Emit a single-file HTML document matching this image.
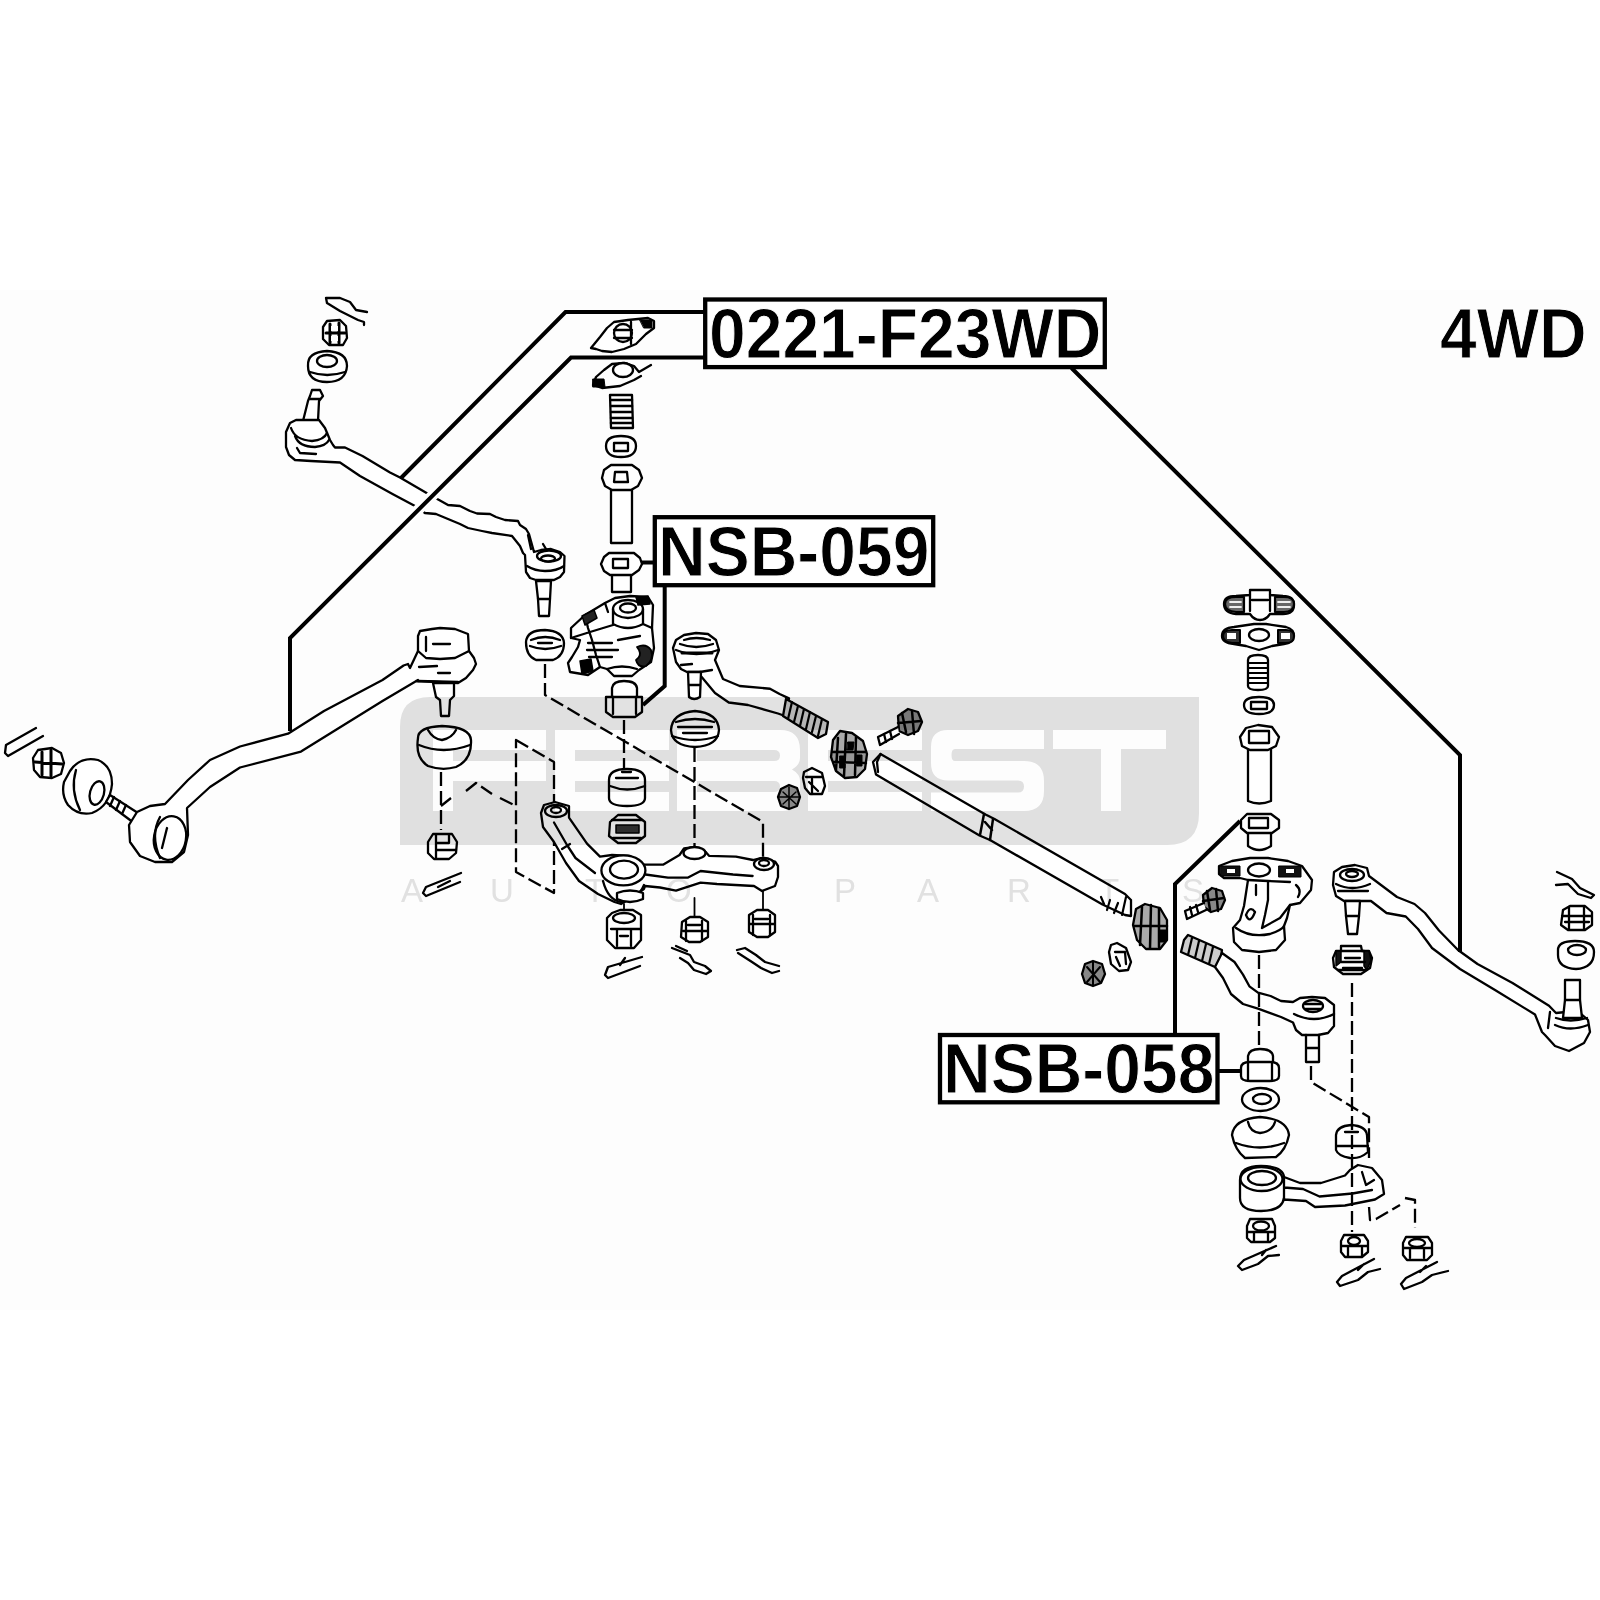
<!DOCTYPE html>
<html><head><meta charset="utf-8">
<style>
html,body{margin:0;padding:0;background:#fff;}
body{width:1600px;height:1600px;overflow:hidden;}
svg{display:block;}
.t{font-family:"Liberation Sans",sans-serif;font-weight:bold;fill:#000;stroke:#fff;stroke-width:0.9px;}
.wm{font-family:"Liberation Sans",sans-serif;fill:#e3e3e3;font-size:33px;}
</style></head><body>
<svg width="1600" height="1600" viewBox="0 0 1600 1600">
<rect x="0" y="0" width="1600" height="1600" fill="#fff"/>
<rect x="0" y="290" width="1600" height="1020" fill="#fdfdfd"/>

<!-- PARTS -->
<g id="parts" fill="#fff" stroke="#000" stroke-width="2.3" stroke-linejoin="round" stroke-linecap="round">
<!-- Group A: upper-left tie rod -->
<path d="M326,298 L340,298 L350,302 L356,310 L367,312 M327,303 L340,311 L350,316 L358,320 L364,322 L364,325 M326,298 L327,303" fill="none"/>
<path d="M327,321 L340,320 L346,326 L347,338 L343,345 L329,345 L323,339 L323,327 Z"/>
<path d="M330,324 L330,343 M339,323 L339,343 M326,333 L345,333" fill="none" stroke-width="3"/><path d="M331,326 L338,326 L338,331 L331,331 Z M331,336 L338,336 L338,341 L331,341 Z" fill="#fff" stroke="none"/>
<path d="M308,366 Q307,352 327,351 Q347,352 347,366 Q346,382 327,382 Q308,382 308,366 Z"/>
<path d="M310,372 Q327,378 345,372" fill="none"/>
<ellipse cx="327" cy="361" rx="10" ry="6"/>
<path d="M312,390 L320,390 L323,396 L319,401 L318,421 L303,421 L308,401 L310,396 Z"/>
<path d="M310,399 L320,399" fill="none"/>
<path d="M303,420 L296,420 L290,423 L286,432 L286,447 L289,455 L295,460 L311,461 L340,462.5 L360,476 L392.5,494 L415,506 L425,513 L436,514 L460,524 L468,528 L482,531 L492,533 L512,536 L516,541 L520,546 L523,553 L525,555 L526,572 L530,578 L536,580 L554,580 L560,577 L564,572 L564.5,556 L560,552 L551,549 L541,550 L534,552 L529,534 L526,529 L520,525 L518,521 L505,520 L496,517 L490,514 L477,513.5 L470,511 L460,506 L448,505 L440,500.5 L430,495 L400,477.5 L390,472.5 L362.5,456 L345,447.5 L335,447.5 L333,445 L330,440 L325,428 L319,420 Z"/>
<path d="M291,428 Q295,440 312,441 Q324,440 327,433 M295,436 Q299,447 315,447 Q326,446 329,440 M297,448 L300,453 L316,454" fill="none"/>
<path d="M527,566 Q535,571 545,571 Q557,571 564,566" fill="none"/>
<ellipse cx="549" cy="556" rx="12" ry="5.5"/>
<ellipse cx="548" cy="558.5" rx="7" ry="3"/>
<path d="M536,581 L551,581 L550,599 L549,616 L539,616 L538,599 Z"/>
<path d="M538,599 L550,599" fill="none"/>
<path d="M528,535 L531,549 M543,544 L546,549" fill="none"/>

<!-- Group B: long tie rod left -->
<path d="M36,728 L6,745 L5,753 L8,756 L43,736" fill="none"/>
<path d="M38,750 L52,748 L61,753 L64,763 L61,774 L52,778 L40,777 L34,770 L33,758 Z"/>
<path d="M42,752 L42,775 M51,750 L51,776 M35,762 L62,764" fill="none" stroke-width="3"/><path d="M44,754 L49,754 L49,760 L44,760 Z M44,766 L49,766 L49,773 L44,773 Z" fill="#fff" stroke="none"/>
<path d="M70,771 Q80,756 98,760 Q112,766 112,784 Q110,806 92,813 Q78,816 68,805 Q61,795 64,782 Z"/>
<path d="M76,770 Q70,790 80,810" fill="none"/>
<ellipse cx="97" cy="793" rx="7" ry="12" transform="rotate(15 97 793)"/>
<path d="M106,802 L110,795 L138,813 L134,823 Z"/>
<path d="M114,797 L110,806 M120,801 L116,810 M126,805 L122,814" fill="none"/>
<path d="M187,808 L210,787 L240,767.5 L301,751.6 L382.5,701 L418,680 L416,681 L458,683 L466,678 L473,670 L476,664 L474,658 L469,651 L468,634 L455,629 L440,628 L432,629 L420,631 L418,636 L418,651 L410,668 L408,664 L403.6,665.5 L382.5,680 L324,711 L288,733.7 L240,746.5 L210,760 L188,780 L165,804 L150,806 L137,812 L129,825 L130,842 L140,856 L155,862 L172,862 L184,852 L188,835 Z"/>
<ellipse cx="170" cy="838" rx="16" ry="22" transform="rotate(10 170 838)"/>
<path d="M167,828 L162,848" fill="none"/>
<path d="M160,817 Q150,835 160,858" fill="none"/>
<path d="M418,651 L426,658 L440,659 L455,658 L469,651 M426,637 L426,651 M433,644 L450,644 M419,667 L437,666 M438,673 L450,673 M418,681 L458,682" fill="none"/>
<path d="M433,683 L454,683 L454,696 L450,700 L449,716 L441,716 L440,700 L436,697 Z"/>
<path d="M418,738 Q418,727 442,726 Q470,727 471,740 Q472,760 456,767 Q442,771 428,766 Q415,758 418,738 Z"/>
<path d="M428,730 Q433,739 442,740 Q452,738 456,730 M419,745 Q443,755 470,745" fill="none"/>

<!-- Group C: center column -->
<path d="M591,348 L600,337 L607,328 L614,322 L628,320 L648,318 L654,321 L654,328 L646,334 L636,344 L624,349 L612,352 L602,351 L596,349 Z"/>
<ellipse cx="623" cy="333" rx="9" ry="9"/>
<path d="M614,330 L632,330 M614,338 L632,338 M631,322 L631,344" fill="none"/>
<path d="M640,320 L652,320 L652,328 L644,328 Z" fill="#000" stroke-width="1"/>
<path d="M593,385 L596,377 L604,370 L612,364 L625,363 L634,366 L639,372 L651,365 M593,385 L602,388 L620,386 L634,380 L641,376" fill="none"/>
<path d="M593,379 L604,379 L605,387 L593,387 Z" fill="#000" stroke-width="1"/>
<ellipse cx="623" cy="370" rx="10" ry="7"/>
<path d="M610,395 L632,395 L633,428 L611,428 Z"/>
<path d="M611,400 L632,400 M611,406 L632,406 M611,412 L632,412 M611,418 L632,418 M611,423 L632,423" fill="none" stroke-width="2.5"/>
<path d="M606,446 Q606,436 621,436 Q636,436 636,446 Q636,457 621,457 Q606,457 606,446 Z"/>
<path d="M614,443 L628,443 L628,451 L614,451 Z" fill="none"/>
<path d="M611,487 L611,543 L632,543 L632,487 Z"/>
<path d="M604,470 L611,465 L632,465 L639,470 L642,478 L638,486 L631,490 L612,490 L605,486 L602,478 Z"/>
<path d="M615,472 L627,472 L628,482 L614,482 Z" fill="none"/>
<path d="M612,574 L612,592 L631,592 L631,574"/>
<path d="M604,557 L609,553 L634,553 L640,558 L642,564 L639,570 L632,575 L610,575 L604,571 L601,564 Z"/>
<path d="M613,559 L628,559 L628,568 L613,568 Z" fill="none"/>
<!-- idler bracket -->
<path d="M571,628 L585,615 L605,603 L615,598 L630,596 L648,597 L653,605 L652,628 L654,648 L651,662 L639,670 L632,676 L614,676 L607,669 L600,667 L588,675 L570,672 L568,663 L572,657 L578,647 L580,640 L571,638 Z"/>
<ellipse cx="628" cy="609" rx="15" ry="9"/>
<ellipse cx="628" cy="608" rx="8" ry="4.5"/>
<path d="M613,609 L613,624 Q628,632 643,624 L643,609" fill="none"/>
<path d="M585,615 L588,628 L592,640 L596,655 L600,667 M605,603 L608,612 M571,638 L590,632 L613,625 M588,643 L612,643 M587,650 L618,650 M589,657 L612,657 M643,624 L652,628 M607,669 Q622,664 637,669 M618,640 L640,636" fill="none"/>
<path d="M636,597 L648,596 L650,604 L638,605 Z" fill="#000" stroke-width="1.5"/>
<path d="M580,661 L591,659 L593,671 L582,674 Z" fill="#000" stroke-width="1.5"/>
<path d="M637,647 Q646,643 651,650 Q654,660 646,666 Q638,668 636,660 Q642,656 639,650 Z" fill="#222" stroke-width="1.8"/>
<path d="M582,616 L594,610 L597,618 L585,625 Z" fill="#222" stroke-width="1.5"/>
<!-- boot left -->
<path d="M526,642 Q527,630 545,630 Q563,631 564,643 Q564,656 553,660 L536,660 Q526,656 526,642 Z"/>
<path d="M530,646 Q545,652 561,646 M531,640 Q545,634 560,640 M538,643 L552,643" fill="none"/>
<!-- cap nut -->
<path d="M612,697 L612,688 Q613,681 624,681 Q636,681 637,688 L637,697"/>
<path d="M606,697 L642,697 L642,712 L635,717 L613,717 L606,712 Z"/>
<path d="M613,697 L613,714 M636,697 L636,714" fill="none"/>

<!-- Group D: idler arm + dashed -->
<g fill="none" stroke-width="2.3" stroke-dasharray="14,5" stroke-linecap="butt">
<path d="M441,772 L441,830"/>
<path d="M545,664 L545,695 L763,822 L763,866"/>
<path d="M624,720 L624,770"/>
<path d="M694.5,748 L694.5,848"/>
<path d="M516,740 L554,762 L554,893 L516,872 Z"/>
<path d="M441,806 L451,798 M466,791 L476,783 L492,794 M500,798 L516,806"/>
</g>
<path d="M694.5,898 L694.5,916 M763,891 L763,911 M624,904 L624,912" fill="none" stroke-width="1.8"/>
<!-- nut under left boot -->
<path d="M433,834 L452,834 L457,842 L456,853 L449,859 L434,859 L428,853 L428,842 Z"/>
<path d="M436,835 L436,858 M436,843 L449,843 L449,835 M436,850 L456,850" fill="none"/>
<!-- cotter pin -->
<path d="M461,873 L426,887 L423,893 L426,896 L460,882 M438,887 L450,881" fill="none"/>
<!-- idler arm -->
<path d="M541,813 L543,827 L554,842 L566,863 L579,881 L598,894 L614.5,902 L621,904 L644,889 L645,886 L660,887.5 L676,890.7 L700.6,882.6 L717,884 L754,886 L762,891 L775,886 L778,877 L778,866 L775,861.5 L761,858 L753,860 L736,856.6 L709,855.8 L705.5,851.7 L695,847 L684,848.5 L679.5,855 L663,864.7 L644,864.7 L630,856 L612,855 L600,856.6 L587,843.6 L569,817.6 L569,806 L555,802 L544,805 Z"/>
<ellipse cx="623.4" cy="870.4" rx="22" ry="15"/>
<ellipse cx="624" cy="869.6" rx="14" ry="9"/>
<path d="M603,881 Q608,900 621,902 Q638,900 644,885" fill="none"/>
<path d="M554,822.5 L567,845 L575.5,858 L595,873 M645.4,874.5 L668,877.7 L687.6,877.7 L700.6,871 L733,874.5 L752.6,876 M562,849 L570,844" fill="none"/>
<ellipse cx="556" cy="811" rx="11" ry="6"/>
<ellipse cx="556" cy="810" rx="5" ry="3"/>
<ellipse cx="694.5" cy="853" rx="11" ry="6"/>
<ellipse cx="764" cy="864" rx="10" ry="6"/>
<ellipse cx="764" cy="863" rx="5" ry="3"/>
<path d="M617,893 Q630,888 643,893 L643,899 Q630,905 617,899 Z"/>
<!-- bushing + nut center -->
<path d="M609,780 Q609,769 627,769 Q645,769 645,780 L645,798 Q645,806 627,806 Q609,806 609,798 Z"/>
<path d="M610,786 Q627,793 645,786 M616,778 L638,778 M622,772 L631,772" fill="none"/>
<path d="M610,822 L618,815 L636,815 L645,822 L645,836 L636,843 L618,843 L609,836 Z"/>
<path d="M616,825 L639,825 L639,833 L616,833 Z" fill="#333" stroke-width="1.5"/>
<path d="M612,820 L642,820 M613,838 L641,838" fill="none" stroke-width="2.5"/>
<!-- boot right -->
<path d="M671,730 Q672,713 695,711 Q718,713 719,730 Q718,746 695,747 Q672,746 671,730 Z"/>
<path d="M676,722 Q695,716 714,722 M678,727 L712,727 M683,733 L707,733 M672,736 Q695,744 718,736" fill="none"/>
<!-- nuts below idler -->
<path d="M612,913 L620,910 L633,910 L641,915 L641,940 L634,948 L615,948 L607,940 L607,918 Z"/>
<ellipse cx="624" cy="918" rx="11" ry="5"/>
<path d="M611,929 L640,929 M617,930 L617,946 M631,930 L631,946 M620,936 L628,936" fill="none"/>
<path d="M682,922 L690,917 L700,917 L708,922 L708,937 L700,942 L689,942 L681,937 Z"/>
<path d="M686,921 L686,941 M702,921 L702,941 M683,931 L707,931 M688,925 L700,925" fill="none"/>
<path d="M749,915 L757,910 L768,910 L775,915 L775,932 L768,937 L757,937 L749,932 Z"/>
<path d="M753,915 L753,935 M770,915 L770,935 M750,924 L774,924 M755,919 L768,919" fill="none"/>
<!-- cotter pins below -->
<path d="M642,957 L608,967 L605,975 L608,978 L640,966 M620,965 L625,958" fill="none"/>
<path d="M672,948 L690,955 L694,962 L705,966 L711,971 L706,974 L694,970 L688,963 L680,958 M676,946 L687,951" fill="none"/>
<path d="M737,950 L745,948 L756,955 L765,962 L779,966 M738,953 L752,962 L761,968 L772,973 L779,971" fill="none"/>

<!-- Group E: center tie rod + sleeve -->
<!-- tie rod end C1 -->
<path d="M715,660 L723,679 L739.7,686 L770,688.75 L779.6,694 L789,698.4 L785,716 L778,713.5 L748,705 L728.75,702.5 L715,693 L700,675 L700,672 L687,672 L681,669 L676,662 L673,648 L676,640 L684,635 L696,633 L708,634 L716,640 L719,650 Z"/>
<path d="M676,650 Q696,658 718,650 M680,644 Q696,650 713,644 M684,640 Q696,636 710,640" fill="none"/>
<path d="M682,653 L712,653" fill="none" stroke-width="3"/>
<path d="M681,665 L692,664 M700,672 L712,670" fill="none"/>
<path d="M688,672 L701,672 L700,697 Q694,701 689,697 Z"/>
<path d="M689,685 L700,685" fill="none"/>
<!-- threaded end -->
<path d="M786,699 L828,722 L826,734 L818,738 L783,716 Z" fill="#ccc"/>
<path d="M792,702 L788,719 M798,706 L794,722 M804,709 L800,726 M810,712 L806,729 M816,716 L812,732 M822,719 L818,736" fill="none" stroke-width="2.2"/>
<!-- clamp dark -->
<path d="M833,740 L840,731 L852,733 L863,741 L867,754 L865,769 L857,777 L845,778 L836,771 L831,757 Z" fill="#aaa"/>
<path d="M838,738 L836,770 M846,734 L844,776 M856,737 L855,775 M833,752 L866,752 M834,762 L866,763" fill="none" stroke-width="2.5"/>
<path d="M848,742 L854,742 L853,750 L847,750 Z M840,756 L845,756 L845,768 L840,768 Z M857,755 L862,755 L862,766 L857,766 Z" fill="#000" stroke-width="1"/>
<!-- bolt -->
<path d="M898,716 L908,709 L918,712 L922,722 L918,731 L908,735 L899,731 Z" fill="#888"/>
<path d="M902,713 L906,732 M912,711 L914,734 M898,723 L921,721" fill="none" stroke-width="2.5"/>
<path d="M898,727 L878,737 L880,745 L899,734" />
<path d="M884,734 L886,742 M890,731 L892,739" fill="none"/>
<!-- clamp nut -->
<path d="M804,772 L812,768 L822,773 L825,786 L822,794 L810,794 L805,788 L803,778 Z"/>
<path d="M806,777 L822,777 M809,782 L818,791 M812,779 L812,794" fill="none"/>
<!-- round nut -->
<path d="M781,789 L789,785 L797,788 L800,797 L797,806 L789,809 L781,806 L778,797 Z" fill="#888"/>
<path d="M783,792 L796,804 M796,792 L783,804 M789,787 L789,808 M779,797 L799,797" fill="none" stroke-width="1.5"/>
<!-- sleeve tube -->
<path d="M880.5,754 L985.5,814.5 L994.5,819 L1125,894 L1131,900 L1131,916 L1125,915 L1102.5,904.5 L990,840 L979.5,835.5 L876,774.4 L873,762 Z"/>
<path d="M880.5,754 L877,762 L878,772" fill="none"/>
<path d="M984,814 L980,835 M993,819 L990,840 M985,822 L992,830" fill="none" stroke-width="2.5"/>
<path d="M1101,897 L1104,904 M1110,900 L1107,910 M1118,903 L1114,913 M1126,897 L1122,915" fill="none" stroke-width="2.2"/>
<!-- end clamp ring dark -->
<path d="M1136,909 L1145,904 L1160,908 L1167,920 L1167,940 L1160,949 L1146,949 L1137,940 L1133,925 Z" fill="#aaa"/>
<path d="M1142,907 L1140,945 M1151,905 L1150,948 M1159,908 L1159,947 M1134,926 L1167,926" fill="none" stroke-width="2.5"/>
<path d="M1160,930 L1166,930 L1166,942 L1160,942 Z" fill="#000" stroke-width="1"/>
<!-- clamp nut 2 -->
<path d="M1111,945 L1117,943 L1126,948 L1131,962 L1128,970 L1119,971 L1111,964 L1109,952 Z"/>
<path d="M1115,952 L1125,952 L1126,964 M1116,957 L1120,966" fill="none"/>
<!-- round nut 2 -->
<path d="M1085,964 L1093,961 L1102,964 L1105,974 L1101,983 L1093,986 L1085,983 L1082,974 Z" fill="#888"/>
<path d="M1087,967 L1100,982 M1100,967 L1087,982 M1093,962 L1093,985" fill="none" stroke-width="2"/>

<!-- Group F: right column -->
<!-- R1 plate with wings -->
<path d="M1224,604 Q1224,596 1236,596 L1250,595 L1250,590 L1270,590 L1270,595 L1283,596 Q1294,596 1294,605 Q1294,614 1283,614 L1270,614 Q1266,620 1260,620 Q1254,620 1250,614 L1236,614 Q1224,613 1224,604 Z"/>
<path d="M1250,595 L1250,611 M1270,595 L1270,611 M1252,600 L1268,600" fill="none"/>
<path d="M1225,604 Q1225,597 1236,597 L1244,597 L1244,612 L1236,612 Q1225,611 1225,604 Z M1275,597 L1284,597 Q1294,597 1294,604 Q1294,612 1284,612 L1275,612 Z" fill="#666" stroke-width="2.2"/>
<path d="M1230,602 L1241,602 M1230,607 L1241,607 M1278,602 L1290,602 M1278,607 L1290,607" fill="none" stroke="#eee" stroke-width="1.8"/>
<!-- R2 plate -->
<path d="M1222,636 Q1222,628 1234,627 L1254,624 L1266,624 L1286,627 Q1294,629 1294,636 Q1293,643 1284,644 L1272,646 L1259,650 L1246,646 L1234,644 Q1222,643 1222,636 Z"/>
<ellipse cx="1259" cy="635" rx="10" ry="6"/>
<path d="M1223,636 Q1223,630 1232,630 L1240,630 L1240,643 L1232,643 Q1223,642 1223,636 Z M1278,630 L1286,630 Q1294,630 1294,636 Q1294,643 1286,643 L1278,643 Z" fill="#333" stroke-width="2"/><path d="M1227,633 L1236,633 L1236,639 L1227,639 Z M1281,633 L1290,633 L1290,639 L1281,639 Z" fill="#fff" stroke="none"/>
<!-- R3 spring -->
<path d="M1248,660 Q1248,655 1258,655 Q1268,655 1268,660 L1268,686 Q1268,690 1258,690 Q1248,690 1248,686 Z"/>
<path d="M1249,663 L1267,663 M1249,668 L1267,668 M1249,673 L1267,673 M1249,678 L1267,678 M1249,683 L1267,683" fill="none" stroke-width="2.2"/>
<!-- R4 washer -->
<path d="M1244,705 Q1244,697 1259,697 Q1274,697 1274,705 Q1274,714 1259,714 Q1244,714 1244,705 Z"/>
<path d="M1251,702 L1267,702 L1267,709 L1251,709 Z" fill="none"/>
<!-- R5 sleeve -->
<path d="M1248,748 L1248,801 Q1259,806 1271,801 L1271,748"/>
<path d="M1240,737 L1246,728 L1258,725 L1272,727 L1279,737 L1276,746 L1268,750 L1250,750 L1242,746 Z"/>
<path d="M1249,731 L1269,731 L1269,743 L1249,743 Z" fill="none"/>
<!-- R6 bushing -->
<path d="M1248,832 L1248,846 Q1259,854 1271,846 L1271,832"/>
<path d="M1241,820 L1247,814 L1271,814 L1279,820 L1279,828 L1272,833 L1247,833 L1241,828 Z"/>
<path d="M1249,818 L1268,818 L1268,828 L1249,828 Z" fill="none"/>
<!-- R7 bracket -->
<path d="M1219,866 L1232,861 L1250,858 L1268,858 L1288,861 L1302,866 L1312,880 L1311,890 L1300,903 L1290,905 L1287,918 L1284,926 L1285,940 L1276,950 L1259,952 L1242,950 L1234,942 L1233,928 L1240,920 L1244,906 L1248,880 L1240,878 L1224,878 L1219,874 Z"/>
<ellipse cx="1259" cy="870" rx="11" ry="6.5"/>
<path d="M1221,866 L1240,866 L1240,876 L1221,876 Z M1279,866 L1301,866 L1301,877 L1279,877 Z" fill="#111" stroke-width="1"/>
<path d="M1227,869 L1235,869 L1235,873 L1227,873 Z M1286,869 L1294,869 L1294,873 L1286,873 Z" fill="#fff" stroke="none"/>
<path d="M1248,880 L1268,881 L1290,882 M1268,881 L1268,900 L1265,915 L1262,928 M1256,885 L1256,895 M1296,885 Q1302,890 1298,897 M1290,905 L1280,918 L1262,928 M1236,928 Q1250,938 1270,934 Q1282,930 1284,926 M1246,915 Q1250,925 1255,912 Q1250,905 1246,915 Z" fill="none"/>
<!-- R8 short tie rod -->
<path d="M1184,940 L1188,935 L1222,950 L1220,963 L1215,967 L1181,952 Z" fill="#ccc"/>
<path d="M1192,938 L1188,955 M1199,941 L1195,958 M1206,944 L1202,961 M1213,947 L1209,964" fill="none" stroke-width="2.2"/>
<path d="M1222,953 L1234.5,962 L1243,974.6 L1249.4,986.3 L1258,992.7 L1270.6,996 L1281,1001 L1293,1002 L1300,998 L1312,997 L1325,998 L1334,1005 L1334,1026 L1328,1033 L1318,1035 L1302,1035 L1296,1030 L1293,1022.5 L1281,1017 L1258,1008.6 L1243,1004 L1231,994 L1223,978 L1215,967 Z"/>
<ellipse cx="1313" cy="1006" rx="10" ry="6"/>
<path d="M1305,1004 L1321,1004 M1305,1009 L1321,1009" fill="none"/>
<path d="M1294,1014 Q1314,1024 1334,1014" fill="none"/>
<path d="M1306,1035 L1306,1062 L1319,1062 L1319,1035 M1306,1048 L1319,1048" fill="none"/>
<!-- NSB-058 target cap -->
<path d="M1248,1063 L1248,1056 Q1249,1049 1260,1049 Q1272,1049 1273,1056 L1273,1063"/>
<path d="M1241,1068 Q1241,1062 1250,1062 L1270,1062 Q1279,1062 1279,1068 L1279,1076 Q1279,1081 1270,1081 L1250,1081 Q1241,1081 1241,1076 Z"/>
<path d="M1248,1062 L1248,1081 M1272,1062 L1272,1081" fill="none"/>
<!-- washer -->
<ellipse cx="1260.5" cy="1099.5" rx="18.5" ry="11.5"/>
<ellipse cx="1262" cy="1099" rx="9" ry="5"/>
<!-- boot -->
<path d="M1232,1135 Q1234,1119 1260,1117 Q1287,1119 1289,1135 Q1286,1150 1276,1157 L1245,1158 Q1235,1150 1232,1135 Z"/>
<path d="M1248,1122 Q1250,1132 1260,1133 Q1272,1132 1275,1122 M1236,1143 Q1260,1152 1284,1143" fill="none"/>
<!-- bushing cyl -->
<path d="M1336,1135 Q1337,1126 1351,1125 Q1366,1126 1367,1135 L1368,1152 Q1360,1159 1350,1158 Q1338,1156 1336,1150 Z"/>
<path d="M1337,1146 L1368,1146 M1345,1132 L1358,1132" fill="none"/>
<!-- R10 idler arm -->
<path d="M1240,1180 Q1240,1166 1261,1166 Q1283,1166 1284,1177 L1300,1183 L1321,1183 L1345,1175.5 L1350,1170 L1358,1165 L1372,1168 L1382,1180 L1384,1194 L1375,1199.5 L1345,1205.5 L1315,1207 L1306,1201 L1284,1199.5 L1284,1198 Q1282,1211 1261,1211 Q1240,1211 1240,1198 Z"/>
<ellipse cx="1261.5" cy="1179" rx="21" ry="12"/>
<ellipse cx="1262" cy="1178" rx="14" ry="7"/>
<path d="M1284,1187.5 L1303,1189 L1319.5,1196.5 L1352.5,1193.5 L1372,1190 M1284,1177 L1284,1199.5 M1362,1172 L1366,1185 L1374,1180" fill="none"/>
<!-- nuts/pins right-lower -->
<path d="M1250,1219 L1272,1219 L1275,1226 L1275,1238 L1270,1242 L1251,1242 L1247,1238 L1247,1226 Z"/>
<ellipse cx="1261" cy="1226" rx="8" ry="4.5"/>
<path d="M1248,1232 L1274,1232 M1254,1233 L1254,1241 M1268,1233 L1268,1241" fill="none"/>
<path d="M1276,1246 L1244,1260 L1238,1266 L1242,1270 L1258,1264 L1268,1256 L1279,1255 M1262,1255 L1266,1250" fill="none"/>
<path d="M1344,1235 L1364,1235 L1368,1241 L1368,1252 L1362,1257 L1345,1257 L1341,1252 L1341,1241 Z"/>
<ellipse cx="1354" cy="1241" rx="6" ry="4"/>
<path d="M1342,1246 L1367,1246 M1348,1247 L1348,1256 M1362,1247 L1362,1256" fill="none"/>
<path d="M1374,1259 L1342,1276 L1337,1282 L1340,1286 L1358,1280 L1368,1272 L1380,1269 M1358,1270 L1364,1264" fill="none"/>
<path d="M1406,1237 L1428,1237 L1432,1243 L1432,1255 L1427,1260 L1407,1260 L1403,1255 L1403,1243 Z"/>
<ellipse cx="1417" cy="1243" rx="8" ry="4"/>
<path d="M1404,1248 L1431,1248 M1410,1249 L1410,1258 M1424,1249 L1424,1258" fill="none"/>
<path d="M1437,1262 L1406,1278 L1401,1284 L1404,1289 L1422,1282 L1432,1275 L1448,1271 M1420,1272 L1426,1266" fill="none"/>
<!-- dashed lines right -->
<g fill="none" stroke-width="2.3" stroke-dasharray="14,5" stroke-linecap="butt">
<path d="M1259,955 L1259,1046"/>
<path d="M1352,983 L1352,1232"/>
<path d="M1311,1066 L1311,1082 L1369,1117 L1369,1158"/>
<path d="M1369,1207 L1370,1220 L1376,1219 L1400,1205 M1405,1198 L1415,1200 L1415,1228"/>
</g>
<!-- R9 long right tie rod -->
<path d="M1369,876 L1397,897 L1414.5,904 L1425,913 L1439,930.5 L1458,950 L1477.5,964 L1512.5,983 L1549,1005.75 L1556,1013 L1566,1012 L1580,1013 L1588,1020 L1590,1032 L1584,1043 L1569,1051 L1555,1046 L1545,1035 L1542,1032 L1535,1014.5 L1495,990 L1460,969 L1432,948 L1418,929 L1405.75,916.5 L1386.5,913 L1371,901 L1360,901 L1344,901 L1336,896 L1333,885 L1334,872 L1342,867 L1355,865 L1367,868 Z"/>
<ellipse cx="1352" cy="875" rx="12" ry="6"/>
<ellipse cx="1352" cy="874" rx="6" ry="3"/>
<path d="M1336,884 Q1352,892 1370,884 M1338,891 L1368,891" fill="none"/>
<path d="M1345,901 L1360,901 L1359,916 L1357,934 L1348,934 L1346,916 Z"/>
<path d="M1346,916 L1359,916" fill="none"/>
<path d="M1341,946 L1361,946 L1362,951 L1369,951 L1372,958 L1370,968 L1364,972 L1361,974 L1343,974 L1339,971 L1334,967 L1333,958 L1336,951 L1341,951 Z"/>
<path d="M1336,951 L1341,951 L1341,962 L1336,966 Z M1364,951 L1369,951 L1371,960 L1367,970 L1364,966 Z" fill="#111" stroke-width="1.5"/>
<path d="M1341,951 L1364,951 M1345,958 L1360,958 M1341,962 L1365,962 M1343,968 L1362,968 M1338,970 L1366,970" fill="none"/>
<path d="M1555,1025 Q1570,1032 1588,1025 M1556,1018 Q1570,1023 1587,1018 M1550,1012 L1548,1028" fill="none"/>
<path d="M1565,980 L1580,980 L1580,1000 L1582,1018 L1563,1018 L1565,1000 Z"/>
<path d="M1565,1000 L1580,1000" fill="none"/>
<path d="M1558,950 Q1558,941 1575,941 Q1594,941 1594,952 Q1594,968 1576,969 Q1558,968 1558,955 Z"/>
<ellipse cx="1577" cy="950" rx="9" ry="5"/>
<path d="M1563,910 L1570,906 L1585,906 L1592,912 L1592,925 L1585,930 L1568,930 L1561,925 Z"/>
<path d="M1562,916 L1591,916 M1565,922 L1589,922 M1569,907 L1569,929 M1584,907 L1584,929" fill="none"/>
<path d="M1557,872 L1572,879 L1580,888 L1594,895 L1591,898 L1578,894 L1568,884 L1556,885" fill="none"/>
<!-- bolt near bracket -->
<path d="M1203,895 L1212,888 L1222,891 L1225,900 L1221,909 L1211,912 L1204,907 Z" fill="#888"/>
<path d="M1207,891 L1210,910 M1216,889 L1218,911 M1203,901 L1224,898" fill="none" stroke-width="2.5"/>
<path d="M1204,903 L1185,911 L1187,919 L1206,910"/>
<path d="M1190,907 L1192,915 M1196,905 L1198,912" fill="none"/>


</g>

<!-- watermark -->
<g id="wm" style="mix-blend-mode:multiply">
<path d="M400,845 L400,727 Q400,697 430,697 L1199,697 L1199,813 Q1199,845 1167,845 Z" fill="#e2e2e2"/>
<g fill="#fff">
<!-- F -->
<rect x="433" y="730" width="20" height="81"/>
<rect x="433" y="730" width="113" height="20"/>
<rect x="433" y="761" width="113" height="20"/>
<!-- E -->
<rect x="555" y="730" width="20" height="81"/>
<rect x="555" y="730" width="114" height="20"/>
<rect x="555" y="761" width="114" height="20"/>
<rect x="555" y="792" width="114" height="19"/>
<!-- B -->
<path d="M677,730 L780,730 Q800,730 800,750 L800,758 Q800,765 792,769.5 Q800,774 800,781 L800,793 Q800,811 782,811 L677,811 Z"/>
<!-- E -->
<rect x="808" y="730" width="20" height="81"/>
<rect x="808" y="730" width="114" height="20"/>
<rect x="808" y="761" width="114" height="20"/>
<rect x="808" y="792" width="114" height="19"/>
<!-- S -->
<path d="M948,730 L1044,730 L1044,749 L955,749 Q951.5,749 951.5,755 Q951.5,761 955,761 L1024,761 Q1044,761 1044,781 L1044,791 Q1044,811 1024,811 L931,811 L931,792.6 L1018,792.6 Q1024,792.6 1024,786.5 Q1024,780.4 1018,780.4 L948,780.4 Q931,780.4 931,763 L931,747 Q931,730 948,730 Z"/>
<!-- T -->
<rect x="1053" y="730" width="113" height="19"/>
<rect x="1101" y="730" width="20" height="81"/>
</g>
<!-- B stripes -->
<g fill="#e2e2e2">
<path d="M697,750 L774,750 Q780,750 780,755.5 Q780,761 774,761 L697,761 Z"/>
<path d="M697,781 L774,781 Q780,781 780,786.5 Q780,792 774,792 L697,792 Z"/>
</g>
<text class="wm" x="401" y="902">A</text>
<text class="wm" x="490" y="902">U</text>
<text class="wm" x="585" y="902">T</text>
<text class="wm" x="666" y="902">O</text>
<text class="wm" x="834" y="902">P</text>
<text class="wm" x="917" y="902">A</text>
<text class="wm" x="1007" y="902">R</text>
<text class="wm" x="1099" y="902">T</text>
<text class="wm" x="1182" y="902">S</text>
</g>

<!-- leader lines -->
<path d="M446,482 L403,525" stroke="#fff" stroke-width="11" fill="none"/>
<g fill="none" stroke="#000" stroke-width="4" stroke-linejoin="miter">
<polyline points="705,312 565.5,312 401,478"/>
<polyline points="705,357.5 571,357.5 290,638 290,731"/>
<polyline points="1071.5,368 1460,755 1460,952"/>
<polyline points="641,562.5 654,562.5"/>
<polyline points="664.7,585 664.7,686 643,705"/>
<polyline points="1175,1034 1175,884 1240,821"/>
<polyline points="1218,1071 1241,1071"/>
</g>

<!-- boxes -->
<g fill="#fff" stroke="#000" stroke-width="4.3">
<rect x="705.2" y="299.5" width="399.6" height="67.6"/>
<rect x="654.8" y="517.2" width="278.4" height="68"/>
<rect x="940" y="1035" width="277.5" height="67.3"/>
</g>
<text class="t" x="709" y="358" font-size="66" transform="translate(0,358) scale(1,1.07) translate(0,-358)">0221-F23WD</text>
<text class="t" x="658" y="576" font-size="66" transform="translate(0,576) scale(1,1.07) translate(0,-576)">NSB-059</text>
<text class="t" x="943" y="1093.5" font-size="66" transform="translate(0,1093.5) scale(1,1.07) translate(0,-1093.5)">NSB-058</text>
<text class="t" x="1440" y="358.5" font-size="66" transform="translate(0,358.5) scale(1,1.07) translate(0,-358.5)">4WD</text>
</svg>
</body></html>
